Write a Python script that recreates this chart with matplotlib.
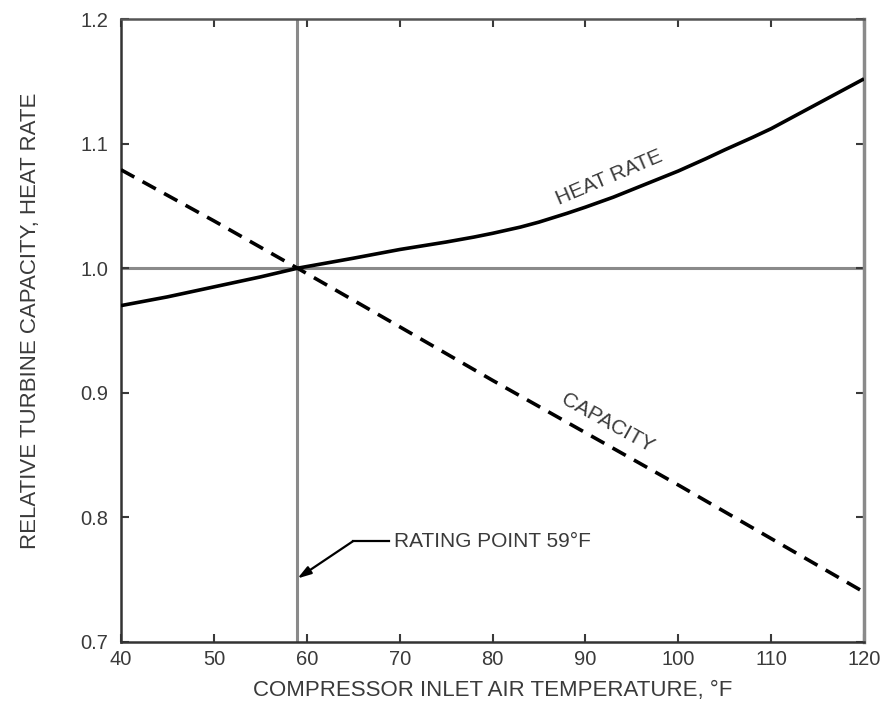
import matplotlib
matplotlib.use("Agg")
import matplotlib.pyplot as plt

# Data
temp_hr = [40, 45, 50, 55, 59, 62, 65, 70, 75, 78, 80, 83, 85, 88, 90, 93, 95,
           98, 100, 103, 105, 108, 110, 113, 115, 118, 120]
heat_rate = [0.970, 0.977, 0.985, 0.993, 1.000, 1.004, 1.008, 1.015, 1.021, 1.025,
             1.028, 1.033, 1.037, 1.044, 1.049, 1.057, 1.063, 1.072, 1.078, 1.088,
             1.095, 1.105, 1.112, 1.124, 1.132, 1.144, 1.152]
temp_cap = [40, 50, 59, 70, 80, 90, 100, 110, 120]
capacity = [1.079, 1.038, 1.000, 0.953, 0.910, 0.868, 0.826, 0.783, 0.740]
x_ticks = [40, 50, 60, 70, 80, 90, 100, 110, 120]
y_ticks = [0.7, 0.8, 0.9, 1.0, 1.1, 1.2]
rating_temp = 59
ref_value = 1.0

plt.rcParams['font.family'] = ['Liberation Sans', 'DejaVu Sans']

fig = plt.figure(figsize=(8.84, 7.10), dpi=100)
ax = fig.add_axes([0.1369, 0.0958, 0.9774 - 0.1369, 0.9732 - 0.0958])

grey = '#8a8a8a'
txt = '#3a3a3a'

ax.axvline(rating_temp, color=grey, lw=2.2, zorder=1)
ax.axhline(ref_value, color=grey, lw=2.2, zorder=1)

ax.plot(temp_hr, heat_rate, color='black', lw=2.6, solid_joinstyle='round',
        solid_capstyle='butt', zorder=3)
ax.plot(temp_cap, capacity, color='black', lw=2.6, dashes=(4.2, 2.6), zorder=3)

ax.set_xlim(40, 120)
ax.set_ylim(0.7, 1.2)
ax.set_xticks(x_ticks)
ax.set_yticks(y_ticks)
ax.set_yticklabels([f"{v:.1f}" for v in y_ticks])

ax.tick_params(direction='in', length=6, width=1.5, top=True, right=True,
               labelsize=14.5, colors=txt, pad=6)
ax.tick_params(axis='y', pad=9)
for side in ['left', 'bottom', 'top']:
    ax.spines[side].set_color('#333333')
    ax.spines[side].set_linewidth(1.8)
ax.spines['right'].set_color(grey)
ax.spines['right'].set_linewidth(2.5)
ax.spines['top'].set_color('#555555')

ax.set_xlabel('COMPRESSOR INLET AIR TEMPERATURE, °F', fontsize=16, color=txt, labelpad=8)
ax.set_ylabel('RELATIVE TURBINE CAPACITY, HEAT RATE', fontsize=16, color=txt)
ax.yaxis.set_label_coords(-0.108, 0.515)

ax.text(92.6, 1.073, 'HEAT RATE', rotation=23, ha='center', va='center',
        fontsize=15, color=txt, rotation_mode='anchor')
ax.text(92.4, 0.8755, 'CAPACITY', rotation=-29, ha='center', va='center',
        fontsize=15, color=txt, rotation_mode='anchor')

# Rating point annotation
ax.plot([65.0, 68.8], [0.781, 0.781], color='black', lw=1.6, zorder=4)
ax.annotate('', xy=(rating_temp, 0.751), xytext=(65.0, 0.781),
            arrowprops=dict(arrowstyle='-|>,head_length=0.8,head_width=0.25',
                            color='black', lw=1.6, shrinkA=0, shrinkB=0), zorder=4)
ax.text(69.4, 0.781, 'RATING POINT 59°F', ha='left', va='center', fontsize=15, color=txt)

fig.savefig('out.png', dpi=100)
